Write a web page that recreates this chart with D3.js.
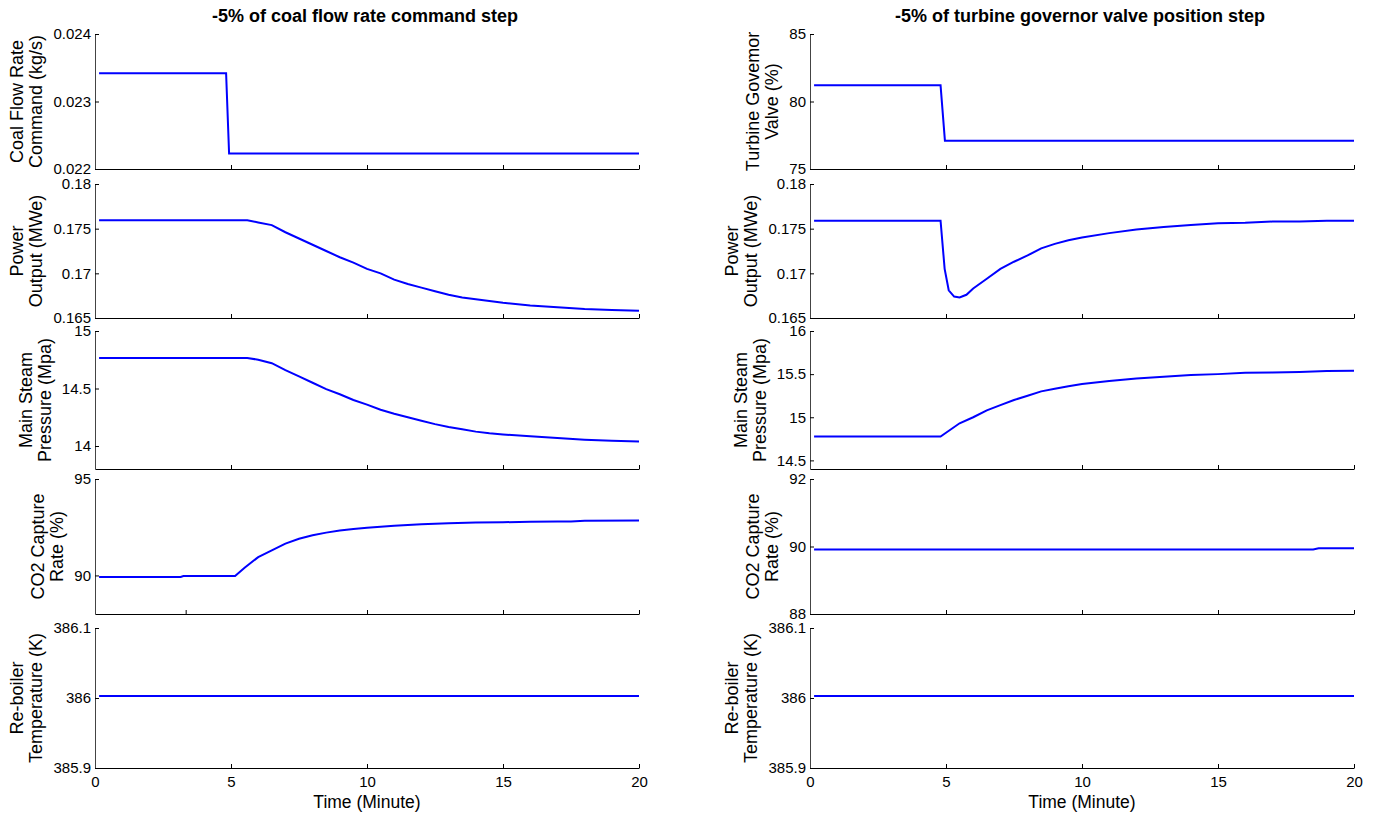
<!DOCTYPE html>
<html>
<head>
<meta charset="utf-8">
<script src="https://cdn.jsdelivr.net/npm/d3@7"></script>
<style>
  body { margin: 0; background: #fff; }
  svg { display: block; font-family: "Liberation Sans", Arial, sans-serif; }
</style>
</head>
<body>
<div id="root"></div>
<script>
// Time axis (minutes) and tick labels
const timeDomain = [0, 20];
const timeTicks = [0, 5, 10, 15, 20];

const titles = ["-5% of coal flow rate command step", "-5% of turbine governor valve position step"];
const xLabel = "Time (Minute)";

// Left column: -5% coal flow step  ([time, value])
const coalCmdL = [[0.15, 0.02342], [4.82, 0.02342], [4.93, 0.02223], [20, 0.02223]];
const powerL = [[0.15, 0.17595], [5.6, 0.17595], [6.0, 0.1757], [6.5, 0.1754], [7.0, 0.1746], [7.5, 0.1739],
  [8.0, 0.1732], [8.5, 0.1725], [9.0, 0.1718], [9.5, 0.1712], [10.0, 0.1705], [10.5, 0.17], [11.0, 0.1693],
  [11.5, 0.1688], [12.0, 0.1684], [12.5, 0.168], [13.0, 0.1676], [13.5, 0.1673], [14.0, 0.1671], [14.5, 0.1669],
  [15.0, 0.1667], [16.0, 0.1664], [17.0, 0.1662], [18.0, 0.166], [19.0, 0.1659], [20.0, 0.1658]];
const steamL = [[0.15, 14.766], [5.6, 14.766], [6.0, 14.75], [6.5, 14.72], [7.0, 14.66], [7.5, 14.605], [8.0, 14.55],
  [8.5, 14.495], [9.0, 14.45], [9.5, 14.4], [10.0, 14.36], [10.5, 14.315], [11.0, 14.28], [11.5, 14.25], [12.0, 14.22],
  [12.5, 14.19], [13.0, 14.165], [13.5, 14.145], [14.0, 14.125], [14.5, 14.11], [15.0, 14.1], [16.0, 14.085],
  [17.0, 14.07], [18.0, 14.055], [19.0, 14.045], [20.0, 14.04]];
const co2L = [[0.15, 89.92], [3.15, 89.92], [3.25, 89.97], [5.15, 89.97], [5.5, 90.4], [6.0, 90.95], [6.5, 91.3],
  [7.0, 91.65], [7.5, 91.9], [8.0, 92.08], [8.5, 92.22], [9.0, 92.33], [9.5, 92.41], [10.0, 92.47], [11.0, 92.57],
  [12.0, 92.66], [13.0, 92.7], [14.0, 92.74], [15.0, 92.76], [16.0, 92.78], [17.0, 92.79], [17.5, 92.8],
  [18.0, 92.84], [20.0, 92.85]];
const reboilerL = [[0.15, 386.003], [20, 386.003]];

// Right column: -5% turbine governor valve step
const valveR = [[0.15, 81.2], [4.8, 81.2], [4.96, 77.1], [20, 77.1]];
const powerR = [[0.15, 0.17589], [4.8, 0.17589], [4.95, 0.1705], [5.1, 0.1681], [5.3, 0.1674], [5.5, 0.1673],
  [5.75, 0.1676], [6.0, 0.1683], [6.5, 0.1694], [7.0, 0.1705], [7.5, 0.1713], [8.0, 0.172], [8.5, 0.1728],
  [9.0, 0.1733], [9.5, 0.1737], [10, 0.174], [11, 0.1745], [12, 0.1749], [13, 0.1752], [14, 0.1754], [15, 0.1756],
  [16, 0.17565], [17, 0.1758], [18, 0.1758], [19, 0.1759], [20, 0.1759]];
const steamR = [[0.15, 14.776], [4.8, 14.776], [5.0, 14.82], [5.5, 14.93], [6.0, 15.0], [6.5, 15.08], [7.0, 15.14],
  [7.5, 15.2], [8.0, 15.25], [8.5, 15.3], [9.0, 15.33], [9.5, 15.36], [10, 15.385], [11, 15.42], [12, 15.45],
  [13, 15.47], [14, 15.49], [15, 15.5], [16, 15.515], [17, 15.52], [18, 15.525], [19, 15.535], [20, 15.54]];
const co2R = [[0.15, 89.91], [18.5, 89.91], [18.7, 89.95], [20, 89.95]];
const reboilerR = [[0.15, 386.003], [20, 386.003]];

// Y axis labels, domains and ticks per row
const labelsL = [["Coal Flow Rate", "Command (kg/s)"], ["Power", "Output (MWe)"], ["Main Steam", "Pressure (Mpa)"],
  ["CO2 Capture", "Rate (%)"], ["Re-boiler", "Temperature (K)"]];
const labelsR = [["Turbine Govemor", "Valve (%)"], ["Power", "Output (MWe)"], ["Main Steam", "Pressure (Mpa)"],
  ["CO2 Capture", "Rate (%)"], ["Re-boiler", "Temperature (K)"]];
const domainsL = [[0.022, 0.024], [0.165, 0.18], [13.8, 15], [88, 95], [385.9, 386.1]];
const domainsR = [[75, 85], [0.165, 0.18], [14.4, 16], [88, 92], [385.9, 386.1]];
const ticksL = [[0.022, 0.023, 0.024], [0.165, 0.17, 0.175, 0.18], [14, 14.5, 15], [90, 95], [385.9, 386, 386.1]];
const ticksR = [[75, 80, 85], [0.165, 0.17, 0.175, 0.18], [14.5, 15, 15.5, 16], [88, 90, 92], [385.9, 386, 386.1]];
const xTicksL = [timeTicks, timeTicks, timeTicks, [0, 10 / 3, 10, 15, 20], timeTicks];
const xTicksR = [timeTicks, timeTicks, timeTicks, timeTicks, timeTicks];

const seriesL = [coalCmdL, powerL, steamL, co2L, reboilerL];
const seriesR = [valveR, powerR, steamR, co2R, reboilerR];

// ---------------------------------------------------------------
const width = 1376;
const height = 817;

const rowTop = [34, 184, 331, 479, 628];
const rowBottom = [169, 318, 469, 614, 768];
const columns = [
  { x0: 95, x1: 639, title: titles[0], labels: labelsL, domains: domainsL, ticks: ticksL, xTicks: xTicksL, series: seriesL },
  { x0: 810, x1: 1354, title: titles[1], labels: labelsR, domains: domainsR, ticks: ticksR, xTicks: xTicksR, series: seriesR }
];

const svg = d3.select("#root")
  .append("svg")
    .attr("width", width)
    .attr("height", height);

columns.forEach(col => {
  const xScale = d3.scaleLinear().domain(timeDomain).range([col.x0, col.x1]);

  // Column title
  svg.append("text")
    .text(col.title)
    .attr("x", (col.x0 + col.x1) / 2 - 2)
    .attr("y", 22)
    .attr("text-anchor", "middle")
    .style("font-size", "18px")
    .style("font-weight", "bold");

  col.series.forEach((data, i) => {
    const last = i === col.series.length - 1;
    const yScale = d3.scaleLinear().domain(col.domains[i]).range([rowBottom[i], rowTop[i]]);

    // Curve
    const lineCreator = d3.line()
      .x(d => xScale(d[0]))
      .y(d => yScale(d[1]));
    svg.append("path")
      .datum(data)
        .attr("d", lineCreator)
        .attr("fill", "none")
        .attr("stroke", "#0000ff")
        .attr("stroke-width", 2);

    // Bottom axis, ticks pointing inward
    const xAxis = svg.append("g")
      .attr("transform", `translate(0, ${rowBottom[i]})`)
      .call(d3.axisBottom(xScale)
        .tickValues(col.xTicks[i])
        .tickSize(-4)
        .tickSizeOuter(0)
        .tickPadding(8)
        .tickFormat(last ? d3.format("d") : () => ""));
    xAxis.select(".domain").attr("stroke", "#000");
    xAxis.selectAll("text").style("font-size", "15px").attr("fill", "#000");

    // Left axis, ticks pointing inward
    const yAxis = svg.append("g")
      .attr("transform", `translate(${col.x0}, 0)`)
      .call(d3.axisLeft(yScale)
        .tickValues(col.ticks[i])
        .tickSize(-4)
        .tickSizeOuter(0)
        .tickPadding(4)
        .tickFormat(d => String(d)));
    yAxis.select(".domain").attr("stroke", "#444");
    yAxis.selectAll("text").style("font-size", "15px").attr("fill", "#000");

    // Two-line rotated y label, placed left of the tick labels
    const left = col.x0 + yAxis.node().getBBox().x;
    const cy = (rowTop[i] + rowBottom[i]) / 2;
    const label = svg.append("text")
      .attr("transform", `translate(${left - 30}, ${cy}) rotate(-90)`)
      .attr("text-anchor", "middle")
      .style("font-size", "18px");
    label.append("tspan").attr("x", 0).attr("dy", 0).text(col.labels[i][0]);
    label.append("tspan").attr("x", 0).attr("dy", 19).text(col.labels[i][1]);

    if (last) {
      svg.append("text")
        .text(xLabel)
        .attr("x", (col.x0 + col.x1) / 2)
        .attr("y", 808)
        .attr("text-anchor", "middle")
        .style("font-size", "17.5px");
    }
  });
});
</script>
</body>
</html>
